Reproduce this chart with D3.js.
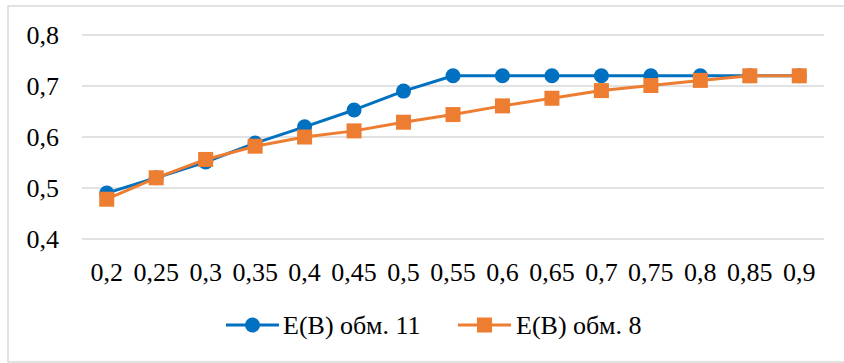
<!DOCTYPE html>
<html>
<head>
<meta charset="utf-8">
<script src="https://cdn.jsdelivr.net/npm/d3@7"></script>
<style>
  html, body { margin: 0; padding: 0; background: #fff; }
  svg { display: block; }
</style>
</head>
<body>
<svg id="chart" width="844" height="363"></svg>
<script>
const categories = ["0,2","0,25","0,3","0,35","0,4","0,45","0,5","0,55","0,6","0,65","0,7","0,75","0,8","0,85","0,9"];
const series11 = [0.49, 0.52, 0.551, 0.588, 0.62, 0.653, 0.69, 0.72, 0.72, 0.72, 0.72, 0.72, 0.72, 0.72, 0.72];
const series8  = [0.478, 0.52, 0.556, 0.582, 0.60, 0.612, 0.629, 0.644, 0.661, 0.676, 0.691, 0.701, 0.711, 0.72, 0.72];
const yTicks = [0.4, 0.5, 0.6, 0.7, 0.8];
const yTickLabels = ["0,4", "0,5", "0,6", "0,7", "0,8"];
const seriesNames = ["E(B) обм. 11", "E(B) обм. 8"];
const colors = ["#0070C0", "#ED7D31"];
const FONT = "'Times New Roman', Times, Tinos, 'Liberation Serif', 'Noto Serif', 'DejaVu Serif', FreeSerif, 'Nimbus Roman', 'Nimbus Roman No9 L', serif";

const svg = d3.select("#chart");

// chart border
svg.append("rect")
  .attr("x", 8).attr("y", 6).attr("width", 850).attr("height", 356)
  .attr("fill", "none").attr("stroke", "#d9d9d9").attr("stroke-width", 1.5);

const x = d3.scalePoint().domain(categories).range([82, 824]).padding(0.5);
const y = d3.scaleLinear().domain([0.4, 0.8]).range([239, 35]);

// gridlines
svg.append("g").selectAll("line").data(yTicks).join("line")
  .attr("x1", 82).attr("x2", 824)
  .attr("y1", d => y(d)).attr("y2", d => y(d))
  .attr("stroke", "#d9d9d9").attr("stroke-width", 1.5);

// y labels
svg.append("g").selectAll("text").data(yTicks).join("text")
  .attr("x", 59).attr("y", d => y(d))
  .attr("dy", "0.35em")
  .attr("text-anchor", "end")
  .style("font-family", FONT)
  .attr("font-size", 26)
  .attr("fill", "#000")
  .text((d, i) => yTickLabels[i]);

// x labels
svg.append("g").selectAll("text").data(categories).join("text")
  .attr("x", d => x(d)).attr("y", 272)
  .attr("dy", "0.35em")
  .attr("text-anchor", "middle")
  .style("font-family", FONT)
  .attr("font-size", 26)
  .attr("fill", "#000")
  .text(d => d);

const line = d3.line().x((d, i) => x(categories[i])).y(d => y(d));

// series 11 (blue, circles)
svg.append("path").datum(series11)
  .attr("d", line).attr("fill", "none")
  .attr("stroke", colors[0]).attr("stroke-width", 3).attr("stroke-linejoin", "round");
svg.append("g").selectAll("circle").data(series11).join("circle")
  .attr("cx", (d, i) => x(categories[i])).attr("cy", d => y(d))
  .attr("r", 7.5).attr("fill", colors[0]);

// series 8 (orange, squares)
svg.append("path").datum(series8)
  .attr("d", line).attr("fill", "none")
  .attr("stroke", colors[1]).attr("stroke-width", 3).attr("stroke-linejoin", "round");
svg.append("g").selectAll("rect").data(series8).join("rect")
  .attr("x", (d, i) => x(categories[i]) - 7.5).attr("y", d => y(d) - 7.5)
  .attr("width", 15).attr("height", 15).attr("fill", colors[1]);

// legend
const legY = 325;
const leg = [
  { x0: 226, x1: 279, tx: 283 },
  { x0: 458, x1: 511, tx: 516 }
];
leg.forEach((l, i) => {
  svg.append("line").attr("x1", l.x0).attr("x2", l.x1).attr("y1", legY).attr("y2", legY)
    .attr("stroke", colors[i]).attr("stroke-width", 3);
  const cx = (l.x0 + l.x1) / 2;
  if (i === 0) {
    svg.append("circle").attr("cx", cx).attr("cy", legY).attr("r", 7.5).attr("fill", colors[i]);
  } else {
    svg.append("rect").attr("x", cx - 7.5).attr("y", legY - 7.5).attr("width", 15).attr("height", 15).attr("fill", colors[i]);
  }
  svg.append("text").attr("x", l.tx).attr("y", legY).attr("dy", "0.35em")
    .style("font-family", FONT)
    .attr("font-size", 26).attr("fill", "#000").text(seriesNames[i]);
});
</script>
</body>
</html>
